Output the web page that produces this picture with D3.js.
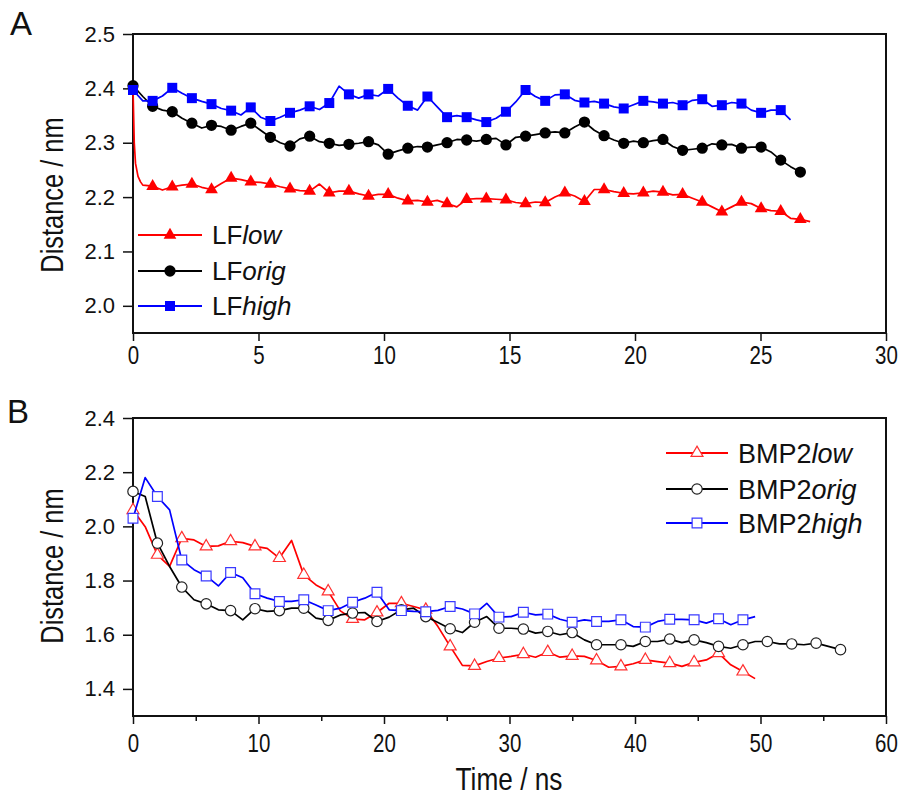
<!DOCTYPE html>
<html>
<head>
<meta charset="utf-8">
<script src="https://cdn.jsdelivr.net/npm/d3@7"></script>
<style>
  body { margin: 0; background: #fff; }
  svg { display: block; font-family: "Liberation Sans", Arial, sans-serif; }
</style>
</head>
<body>
<svg id="chart" width="904" height="801"></svg>
<script>
// ---- panel A: LF distances, sampled every half marker spacing (0.391 ns)
const lfStep = 0.391;
const lfLowHead = [[0, 2.40], [0.05, 2.30], [0.1, 2.262], [0.2, 2.238], [0.3, 2.228]];
const lfLow = [2.40,
  2.222, 2.220, 2.213, 2.219, 2.222, 2.224, 2.218, 2.214, 2.225, 2.235, 2.232, 2.228, 2.227, 2.224,
  2.219, 2.215, 2.212, 2.211, 2.224, 2.208, 2.211, 2.211, 2.206, 2.202, 2.205, 2.205, 2.198, 2.193,
  2.194, 2.191, 2.194, 2.188, 2.182, 2.196, 2.197, 2.197, 2.196, 2.195, 2.190, 2.188, 2.191, 2.190,
  2.200, 2.208, 2.202, 2.192, 2.214, 2.214, 2.210, 2.207, 2.206, 2.208, 2.211, 2.209, 2.204, 2.205,
  2.198, 2.191, 2.182, 2.173, 2.182, 2.191, 2.188, 2.179, 2.175, 2.174, 2.161, 2.159, 2.155];
const lfOrig = [2.405, 2.385, 2.367, 2.360, 2.357, 2.345, 2.336, 2.327, 2.332, 2.330, 2.323, 2.330,
  2.336, 2.323, 2.310, 2.300, 2.294, 2.307, 2.312, 2.302, 2.299, 2.295, 2.297, 2.299, 2.302, 2.296,
  2.279, 2.285, 2.290, 2.293, 2.292, 2.296, 2.300, 2.306, 2.305, 2.303, 2.306, 2.308, 2.296, 2.310,
  2.312, 2.315, 2.318, 2.320, 2.318, 2.329, 2.338, 2.323, 2.313, 2.305, 2.299, 2.303, 2.300, 2.304,
  2.306, 2.293, 2.286, 2.288, 2.290, 2.298, 2.296, 2.297, 2.290, 2.292, 2.292, 2.283, 2.268, 2.256, 2.246];
const lfHigh = [2.397, 2.377, 2.377, 2.386, 2.401, 2.391, 2.382, 2.376, 2.371, 2.363, 2.359, 2.351,
  2.365, 2.347, 2.340, 2.347, 2.355, 2.360, 2.367, 2.361, 2.373, 2.404, 2.389, 2.382, 2.389, 2.386,
  2.399, 2.382, 2.368, 2.360, 2.385, 2.366, 2.347, 2.350, 2.347, 2.342, 2.338, 2.345, 2.357, 2.375,
  2.397, 2.385, 2.377, 2.388, 2.389, 2.378, 2.374, 2.376, 2.372, 2.366, 2.363, 2.370, 2.377, 2.375,
  2.372, 2.374, 2.369, 2.378, 2.380, 2.367, 2.369, 2.374, 2.372, 2.360, 2.355, 2.360, 2.360, 2.342];

// ---- panel B: BMP2 distances, sampled every half marker spacing (0.972 ns)
const bmpStep = 0.972;
const bmpLow = [2.06, 1.999, 1.895, 1.852, 1.956, 1.95, 1.926, 1.928, 1.945, 1.940, 1.926, 1.919,
  1.883, 1.948, 1.821, 1.784, 1.760, 1.688, 1.658, 1.655, 1.682, 1.716, 1.716, 1.704, 1.692, 1.630,
  1.557, 1.487, 1.485, 1.501, 1.514, 1.52, 1.528, 1.517, 1.536, 1.517, 1.522, 1.52, 1.505, 1.48,
  1.483, 1.493, 1.507, 1.501, 1.495, 1.483, 1.498, 1.507, 1.532, 1.489, 1.464, 1.438];
const bmpOrig = [2.129, 2.11, 1.938, 1.852, 1.776, 1.729, 1.714, 1.692, 1.689, 1.655, 1.696, 1.686,
  1.689, 1.698, 1.698, 1.661, 1.653, 1.673, 1.680, 1.682, 1.649, 1.665, 1.692, 1.698, 1.667, 1.645,
  1.622, 1.608, 1.646, 1.667, 1.624, 1.624, 1.621, 1.606, 1.612, 1.600, 1.608, 1.581, 1.563, 1.563,
  1.563, 1.557, 1.575, 1.575, 1.584, 1.571, 1.581, 1.571, 1.557, 1.550, 1.563, 1.575, 1.575, 1.566,
  1.566, 1.563, 1.569, 1.557, 1.545];
const bmpHigh = [2.03, 2.18, 2.110, 2.061, 1.876, 1.84, 1.817, 1.78, 1.83, 1.81, 1.751, 1.735,
  1.723, 1.723, 1.729, 1.71, 1.689, 1.698, 1.720, 1.735, 1.757, 1.692, 1.689, 1.686, 1.685, 1.690,
  1.704, 1.695, 1.677, 1.716, 1.665, 1.667, 1.683, 1.673, 1.676, 1.657, 1.646, 1.655, 1.649, 1.649,
  1.655, 1.630, 1.628, 1.649, 1.657, 1.657, 1.655, 1.643, 1.659, 1.637, 1.655, 1.667];

// ticks
const lfXTicks = [0, 5, 10, 15, 20, 25, 30];
const lfYTicks = [2.0, 2.1, 2.2, 2.3, 2.4, 2.5];
const bmpXTicks = [0, 10, 20, 30, 40, 50, 60];
const bmpXMinor = [5, 15, 25, 35, 45, 55];
const bmpYTicks = [1.4, 1.6, 1.8, 2.0, 2.2, 2.4];

const svg = d3.select("#chart");
const left = 133, right = 886;
const squeeze = 0.82; // the original uses a narrow face for axis text

function toPoints(values, step) {
  // a marker on every second sample, as in the original plot
  return values.map((v, j) => ({ t: j * step, v: v, mark: j % 2 === 0 && j < 69 }));
}

const lowPts = lfLowHead.map(([t, v]) => ({ t, v, mark: false }))
  .concat(toPoints(lfLow, lfStep).slice(1));

const panels = [
  {
    letter: "A", top: 34, bottom: 333, xDomain: [0, 30], yDomain: [1.95, 2.5],
    xTicks: lfXTicks, xMinor: [], yTicks: lfYTicks, labelPad: 5, titleY: 195,
    filled: true,
    legend: { x1: 138, x2: 202, tx: 212, ys: [235, 271, 306], prefix: "LF", size: 26 },
    series: [
      { name: "low", color: "#ff0000", sym: d3.symbolTriangle, size: 70, pts: lowPts },
      { name: "orig", color: "#000000", sym: d3.symbolCircle, size: 100, pts: toPoints(lfOrig, lfStep) },
      { name: "high", color: "#0000ff", sym: d3.symbolSquare, size: 100, pts: toPoints(lfHigh, lfStep) }
    ]
  },
  {
    letter: "B", top: 418, bottom: 716, xDomain: [0, 60], yDomain: [1.3, 2.4],
    xTicks: bmpXTicks, xMinor: bmpXMinor, yTicks: bmpYTicks, labelPad: 10, titleY: 566,
    filled: false,
    legend: { x1: 666, x2: 728, tx: 738, ys: [453, 489, 523], prefix: "BMP2", size: 27 },
    series: [
      { name: "low", color: "#ff0000", mcolor: "#ff3030", sym: d3.symbolTriangle, size: 62, pts: toPoints(bmpLow, bmpStep) },
      { name: "orig", color: "#000000", mcolor: "#222", sym: d3.symbolCircle, size: 85, pts: toPoints(bmpOrig, bmpStep) },
      { name: "high", color: "#0000ff", mcolor: "#3a3aff", sym: d3.symbolSquare, size: 95, pts: toPoints(bmpHigh, bmpStep) }
    ]
  }
];

panels.forEach(p => {
  const x = d3.scaleLinear().domain(p.xDomain).range([left, right]);
  const y = d3.scaleLinear().domain(p.yDomain).range([p.bottom, p.top]);
  const g = svg.append("g");

  // y axis
  g.append("g")
    .attr("transform", `translate(${left},0)`)
    .call(d3.axisLeft(y).tickValues(p.yTicks).tickSize(10).tickPadding(8).tickFormat(d3.format(".1f")))
    .call(a => a.select(".domain").remove())
    .call(a => a.selectAll(".tick line").attr("stroke", "#111").attr("stroke-width", 1.5))
    .call(a => a.selectAll(".tick text").attr("font-size", 22).attr("fill", "#111")
      .attr("font-family", '"Liberation Sans", Arial, sans-serif'));

  // x axis
  g.append("g")
    .attr("transform", `translate(0,${p.bottom})`)
    .call(d3.axisBottom(x).tickValues(p.xTicks).tickSize(8).tickPadding(p.labelPad).tickFormat(d3.format("d")))
    .call(a => a.select(".domain").remove())
    .call(a => a.selectAll(".tick line").attr("stroke", "#111").attr("stroke-width", 1.5))
    .call(a => a.selectAll(".tick text").attr("font-size", 25).attr("fill", "#111")
      .attr("font-family", '"Liberation Sans", Arial, sans-serif')
      .attr("transform", `scale(${squeeze},1)`));

  if (p.xMinor.length) {
    g.append("g")
      .attr("transform", `translate(0,${p.bottom})`)
      .call(d3.axisBottom(x).tickValues(p.xMinor).tickSize(5).tickFormat(""))
      .call(a => a.select(".domain").remove())
      .call(a => a.selectAll(".tick line").attr("stroke", "#111").attr("stroke-width", 1.5));
  }

  // frame
  g.append("rect")
    .attr("x", left).attr("y", p.top)
    .attr("width", right - left).attr("height", p.bottom - p.top)
    .attr("fill", "none").attr("stroke", "#111").attr("stroke-width", 2);

  // y title
  g.append("text")
    .attr("transform", `translate(63,${p.titleY}) rotate(-90) scale(${squeeze},1)`)
    .attr("text-anchor", "middle")
    .attr("font-size", 31).attr("fill", "#111")
    .text("Distance / nm");

  // panel letter
  g.append("text")
    .attr("x", p.letter === "A" ? 10 : 7).attr("y", p.letter === "A" ? 35 : 423)
    .attr("font-size", 33).attr("fill", "#111")
    .text(p.letter);

  const line = d3.line().x(d => x(d.t)).y(d => y(d.v));

  p.series.forEach(s => {
    g.append("path")
      .datum(s.pts)
      .attr("d", line)
      .attr("fill", "none")
      .attr("stroke", s.color)
      .attr("stroke-width", 1.7)
      .attr("stroke-linejoin", "round");

    g.append("g").selectAll("path")
      .data(s.pts.filter(d => d.mark))
      .join("path")
      .attr("transform", d => `translate(${x(d.t)},${y(d.v)})`)
      .attr("d", d3.symbol(s.sym, s.size))
      .attr("fill", p.filled ? s.color : "#fff")
      .attr("stroke", p.filled ? "none" : s.mcolor)
      .attr("stroke-width", 1.2);
  });

  // legend
  const lg = p.legend;
  p.series.forEach((s, i) => {
    const ly = lg.ys[i];
    g.append("line")
      .attr("x1", lg.x1).attr("x2", lg.x2).attr("y1", ly).attr("y2", ly)
      .attr("stroke", s.color).attr("stroke-width", 1.8);
    g.append("path")
      .attr("transform", `translate(${(lg.x1 + lg.x2) / 2},${ly})`)
      .attr("d", d3.symbol(s.sym, s.size))
      .attr("fill", p.filled ? s.color : "#fff")
      .attr("stroke", p.filled ? "none" : s.mcolor)
      .attr("stroke-width", 1.2);
    const t = g.append("text")
      .attr("x", lg.tx).attr("y", ly + lg.size * 0.36)
      .attr("font-size", lg.size).attr("fill", "#111");
    t.append("tspan").text(lg.prefix);
    t.append("tspan").attr("font-style", "italic").text(s.name);
  });
});

// shared x title
svg.append("text")
  .attr("transform", `translate(509,790) scale(${squeeze},1)`)
  .attr("text-anchor", "middle")
  .attr("font-size", 32).attr("fill", "#111")
  .text("Time / ns");
</script>
</body>
</html>
